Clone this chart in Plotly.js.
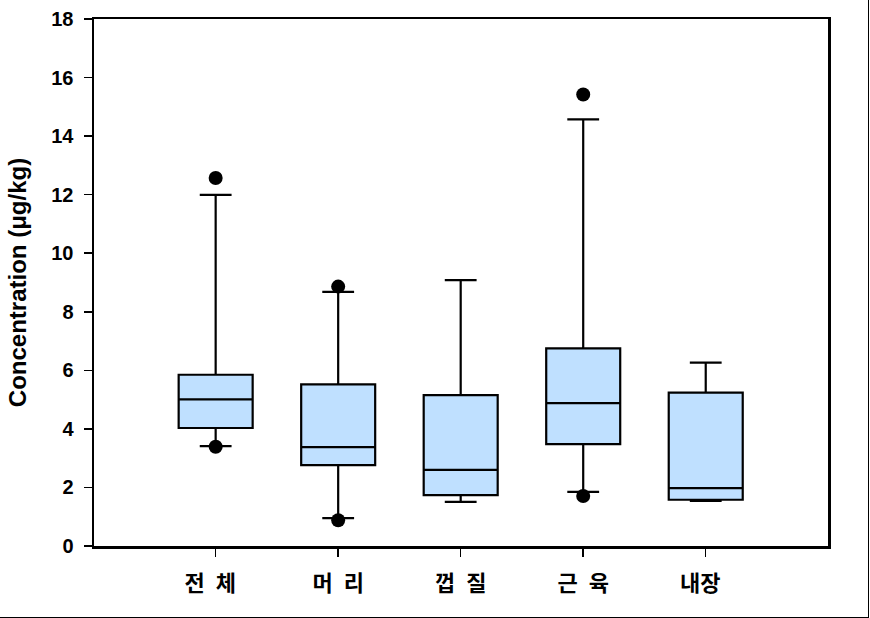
<!DOCTYPE html>
<html>
<head>
<meta charset="utf-8">
<script src="https://cdn.plot.ly/plotly-3.0.1.min.js"></script>
<style>
  html, body { margin: 0; padding: 0; background: #fff; }
  #wrap { position: relative; width: 870px; height: 618px; }
  #chart { width: 870px; height: 618px; }
  #frame { position: absolute; left: 0; top: 0; width: 869px; height: 618px; box-sizing: border-box;
           border-right: 1px solid #000; border-bottom: 1px solid #000; pointer-events: none; }
</style>
</head>
<body>
<div id="wrap"><div id="chart"></div><div id="frame"></div></div>
<script>
const categories = ["전 체", "머 리", "껍 질", "근 육", "내장"];
const tickLabels = ["전\u2002체\u2002", "머\u2002리", "껍\u2002질", "근\u2002육", "내장\u2002"];
const lowerWhisker = [3.41, 0.95, 1.51, 1.85, 1.54];
const q1Values     = [4.03, 2.76, 1.74, 3.48, 1.58];
const medianValues = [5.01, 3.38, 2.60, 4.88, 1.98];
const q3Values     = [5.85, 5.52, 5.15, 6.75, 5.24];
const upperWhisker = [11.99, 8.68, 9.08, 14.57, 6.26];
const outlierCategories = ["전 체", "전 체", "머 리", "머 리", "근 육", "근 육"];
const outlierValues     = [12.57, 3.39, 8.86, 0.88, 15.42, 1.71];
const yTickValues = [0, 2, 4, 6, 8, 10, 12, 14, 16, 18];

const boxTrace = {
  type: "box",
  x: categories,
  q1: q1Values,
  median: medianValues,
  q3: q3Values,
  lowerfence: lowerWhisker,
  upperfence: upperWhisker,
  boxpoints: false,
  width: 0.604,
  whiskerwidth: 0.43,
  fillcolor: "rgb(191,224,255)",
  line: { color: "#000", width: 2.2 },
  hoverinfo: "skip",
  showlegend: false
};

const outlierTrace = {
  type: "scatter",
  mode: "markers",
  x: outlierCategories,
  y: outlierValues,
  marker: { color: "#000", size: 14, line: { width: 0 } },
  hoverinfo: "skip",
  showlegend: false,
  cliponaxis: false
};

const layout = {
  width: 870,
  height: 618,
  margin: { l: 94, r: 42, t: 19, b: 72, pad: 0 },
  paper_bgcolor: "#fff",
  plot_bgcolor: "#fff",
  showlegend: false,
  xaxis: {
    type: "category",
    categoryorder: "array",
    categoryarray: categories,
    tickvals: categories,
    ticktext: tickLabels,
    range: [-0.993, 4.998],
    showline: true, linecolor: "#000", linewidth: 2.5, mirror: true,
    showgrid: false, zeroline: false,
    ticks: "outside", ticklen: 8, tickwidth: 1.5, tickcolor: "#000",
    ticklabelstandoff: 8,
    tickfont: { family: "Noto Sans CJK KR", size: 22, color: "#000", weight: "bold" }
  },
  yaxis: {
    range: [0, 18],
    tickvals: yTickValues,
    ticktext: yTickValues.map(String),
    showline: true, linecolor: "#000", linewidth: 2.5, mirror: true,
    showgrid: false, zeroline: false,
    ticks: "outside", ticklen: 8, tickwidth: 1.5, tickcolor: "#000",
    ticklabelstandoff: 6,
    tickfont: { family: "Liberation Sans, Arial, sans-serif", size: 20, color: "#000", weight: "bold" },
    title: {
      text: "Concentration (μg/kg)",
      standoff: 18,
      font: { family: "Liberation Sans, Arial, sans-serif", size: 24, color: "#000", weight: "bold" }
    }
  }
};

Plotly.newPlot("chart", [boxTrace, outlierTrace], layout, { staticPlot: true, displayModeBar: false });
</script>
</body>
</html>
